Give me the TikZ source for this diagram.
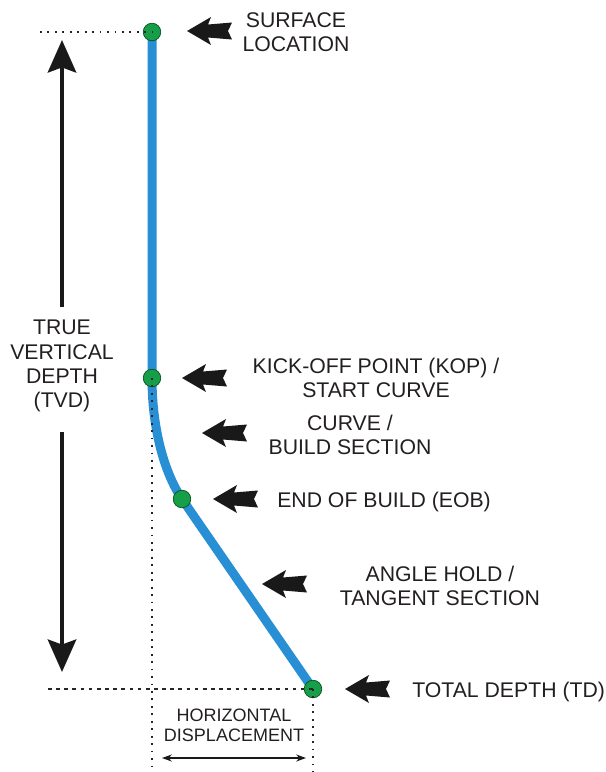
\documentclass[tikz,border=0pt]{standalone}
\usepackage{fontspec}
\setmainfont{Liberation Sans}
\usepackage{xcolor}
\usetikzlibrary{arrows.meta}

\definecolor{wellblue}{RGB}{40,143,213}
\definecolor{dotgreen}{RGB}{22,158,72}
\definecolor{dotedge}{RGB}{10,80,30}
\definecolor{txt}{RGB}{35,31,32}

\begin{document}
\begin{tikzpicture}[x=0.025cm,y=-0.025cm,
        well/.style={wellblue,line width=6.4pt},
        dot/.style={circle,fill=dotgreen,draw=dotedge,line width=0.5pt,minimum size=12.5pt,inner sep=0pt},
        guide/.style={black!85,line width=1.3pt,dash pattern=on 1.3pt off 4pt},
        dashguide/.style={black!85,line width=1pt,dash pattern=on 2.6pt off 3.2pt},
        lbl/.style={txt,font=\fontsize{15.1}{17.2}\selectfont,align=center,inner sep=0pt},
        tvdarrow/.style={black!90,line width=3.5pt,-{Stealth[length=23pt,width=20pt,inset=3.5pt]}},
        hdarrow/.style={black!90,line width=1pt,{Stealth[length=7pt,width=5pt]}-{Stealth[length=7pt,width=5pt]}},
        lblarrow/.pic={\fill[black!90] (0,0) -- (24,-14) -- (21,-6.5) -- (45,-8.5) -- (41,0) -- (45,8.5) -- (21,6.5) -- (24,14) -- cycle;}]
        \useasboundingbox (0,0) rectangle (606,772);
        % well path
        \coordinate(s) at (152,32);
        \coordinate(k) at (152,378);
        \coordinate(e) at (182,499);
        \coordinate(t) at (313,689);
        \draw[well](s)--(k) .. controls (152,430) and (165,474) .. (e)--(t);
        \node[dot](sdot) at (s) {};
        \node[dot](kdot) at (k) {};
        \node[dot](edot) at (e) {};
        \node[dot](tdot) at (t) {};
        % guide lines
        \coordinate(sleft) at (40,32);
        \coordinate(tleft) at (48,689);
        \coordinate(kbot) at (152,772);
        \coordinate(tbot) at (313,772);
        \draw[guide](sleft)--(s);
        \draw[dashguide](tleft)--(t);
        \draw[guide](k)--(kbot);
        \draw[guide](t)--(tbot);
        % labels
        \node[lbl](surf) at (296,32) {SURFACE\\LOCATION};
        \node[lbl](kop) at (376,378) {KICK-OFF POINT (KOP) /\\START CURVE};
        \node[lbl](build) at (350,435) {CURVE /\\BUILD SECTION};
        \node[lbl,anchor=base west](eob) at (277,507) {END OF BUILD (EOB)};
        \node[lbl](hold) at (440,586) {ANGLE HOLD /\\TANGENT SECTION};
        \node[lbl,anchor=base west](td) at (412,697) {TOTAL DEPTH (TD)};
        \node[lbl](tvd) at (62,366) {TRUE\\VERTICAL\\DEPTH\\(TVD)};
        \node[lbl,font=\fontsize{12.8}{14.2}\selectfont](hdisp) at (234,725) {HORIZONTAL\\DISPLACEMENT};
        % pointers
        \pic at (187,31) {lblarrow};
        \pic at (182,378) {lblarrow};
        \pic at (202,433) {lblarrow};
        \pic at (213,499) {lblarrow};
        \pic at (262,584) {lblarrow};
        \pic at (345,689) {lblarrow};
        % depth and displacement
        \coordinate(tvdtop) at (62,40);
        \coordinate(tvdbot) at (62,672);
        \coordinate(hl) at (162,758);
        \coordinate(hr) at (306,758);
        \draw[tvdarrow,shorten <=9pt](tvd.north)--(tvdtop);
        \draw[tvdarrow,shorten <=14pt](tvd.south)--(tvdbot);
        \draw[hdarrow](hl)--(hr);
\end{tikzpicture}
\end{document}
